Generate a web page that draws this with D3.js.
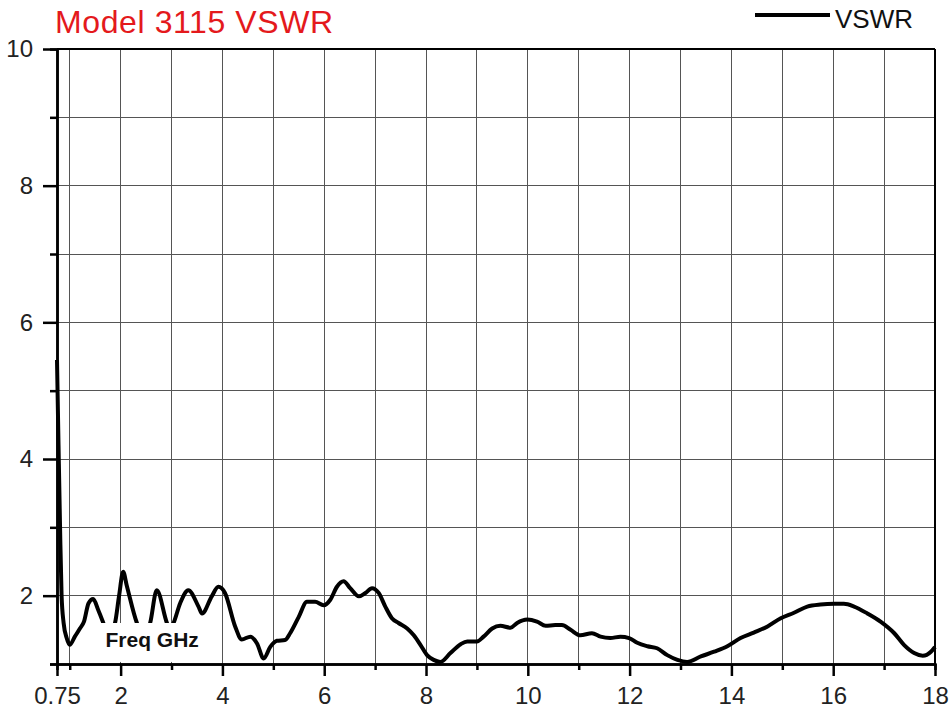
<!DOCTYPE html>
<html>
<head>
<meta charset="utf-8">
<script src="https://cdn.jsdelivr.net/npm/d3@7"></script>
<style>
  body { margin: 0; background: #fff; }
  svg { display: block; font-family: "Liberation Sans", Arial, sans-serif; }
</style>
</head>
<body>
<div id="chart"></div>
<script>
// VSWR trace (frequency in GHz)
const freq = [
  0.75, 0.78, 0.81, 0.84, 0.88, 0.94, 1.00, 1.10, 1.20, 1.28, 1.37, 1.46, 1.56, 1.66, 1.76,
  1.89, 1.97, 2.05, 2.12, 2.32, 2.45, 2.58, 2.71, 2.91, 2.97, 3.04, 3.17, 3.33, 3.53, 3.60,
  3.79, 3.92, 4.05, 4.25, 4.38, 4.55, 4.68, 4.81, 4.94, 5.07, 5.23, 5.33, 5.50, 5.66, 5.82,
  5.99, 6.12, 6.25, 6.38, 6.51, 6.68, 6.81, 6.94, 7.07, 7.20, 7.33, 7.46, 7.63, 7.76, 7.89,
  8.02, 8.15, 8.28, 8.48, 8.68, 8.81, 9.00, 9.13, 9.30, 9.46, 9.66, 9.79, 9.99, 10.18, 10.35,
  10.54, 10.67, 10.84, 11.03, 11.26, 11.43, 11.62, 11.82, 11.99, 12.15, 12.35, 12.54, 12.74, 12.94, 13.13,
  13.40, 13.66, 13.92, 14.18, 14.44, 14.71, 14.97, 15.23, 15.49, 15.75, 16.02, 16.21, 16.41, 16.67, 16.93,
  17.20, 17.39, 17.59, 17.76, 17.92, 18.00
];
const vswr = [
  5.45, 4.20, 3.00, 2.00, 1.60, 1.38, 1.28, 1.40, 1.52, 1.62, 1.89, 1.95, 1.79, 1.60, 1.40,
  1.60, 2.00, 2.35, 2.15, 1.60, 1.40, 1.60, 2.08, 1.60, 1.50, 1.60, 1.89, 2.08, 1.84, 1.74,
  1.99, 2.13, 2.04, 1.55, 1.36, 1.40, 1.30, 1.08, 1.25, 1.34, 1.35, 1.45, 1.69, 1.91, 1.91,
  1.86, 1.94, 2.13, 2.21, 2.11, 1.99, 2.04, 2.11, 2.04, 1.84, 1.67, 1.60, 1.52, 1.42, 1.28,
  1.13, 1.06, 1.03, 1.16, 1.29, 1.33, 1.33, 1.40, 1.52, 1.56, 1.53, 1.60, 1.65, 1.62, 1.56,
  1.57, 1.57, 1.50, 1.42, 1.45, 1.40, 1.38, 1.40, 1.38, 1.31, 1.26, 1.23, 1.13, 1.06, 1.03,
  1.11, 1.18, 1.26, 1.38, 1.46, 1.55, 1.67, 1.75, 1.84, 1.87, 1.88, 1.88, 1.84, 1.74, 1.62,
  1.45, 1.28, 1.16, 1.12, 1.18, 1.25
];

const xMajorTicks = [0.75, 2, 4, 6, 8, 10, 12, 14, 16, 18];
const xMinorTicks = [1, 3, 5, 7, 9, 11, 13, 15, 17];
const yMajorTicks = [2, 4, 6, 8, 10];
const yMinorTicks = [1, 3, 5, 7, 9];
const xGrid = [1, 2, 3, 4, 5, 6, 7, 8, 9, 10, 11, 12, 13, 14, 15, 16, 17];
const yGrid = [2, 3, 4, 5, 6, 7, 8, 9];

const W = 952, H = 713;
const margin = { top: 49, right: 17, bottom: 49, left: 57 },
  width = W - margin.left - margin.right,
  height = H - margin.top - margin.bottom;

const x = d3.scaleLinear().domain([0.75, 18]).range([0, width]);
const y = d3.scaleLinear().domain([1, 10]).range([height, 0]);

const svg = d3.select('#chart').append('svg')
  .attr('width', W).attr('height', H);

const g = svg.append('g')
  .attr('transform', 'translate(' + margin.left + ',' + margin.top + ')');

// grid
g.append('g').selectAll('line').data(xGrid).enter().append('line')
  .attr('x1', d => x(d)).attr('x2', d => x(d))
  .attr('y1', 0).attr('y2', height)
  .attr('stroke', '#555').attr('stroke-width', 1).attr('shape-rendering', 'crispEdges');
g.append('g').selectAll('line').data(yGrid).enter().append('line')
  .attr('y1', d => y(d)).attr('y2', d => y(d))
  .attr('x1', 0).attr('x2', width)
  .attr('stroke', '#555').attr('stroke-width', 1).attr('shape-rendering', 'crispEdges');

// trace
const line = d3.line()
  .x((d, i) => x(freq[i]))
  .y(d => y(d))
  .curve(d3.curveMonotoneX);

g.append('path')
  .datum(vswr)
  .attr('fill', 'none')
  .attr('stroke', '#000')
  .attr('stroke-width', 4)
  .attr('stroke-linejoin', 'round')
  .attr('d', line);

// axis title box sits over the trace
g.append('rect')
  .attr('x', x(1.57)).attr('y', y(1.6))
  .attr('width', x(3.55) - x(1.57)).attr('height', y(1.03) - y(1.6))
  .attr('fill', '#fff');
g.append('text')
  .attr('x', x(2.62)).attr('y', y(1.25))
  .attr('text-anchor', 'middle')
  .style('font-size', '21px').style('font-weight', 'bold').style('fill', '#111')
  .text('Freq GHz');

// frame
g.append('line').attr('x1', 0).attr('x2', width).attr('y1', 0).attr('y2', 0)
  .attr('stroke', '#000').attr('stroke-width', 2);
g.append('line').attr('x1', width).attr('x2', width).attr('y1', 0).attr('y2', height)
  .attr('stroke', '#000').attr('stroke-width', 2);

function styleAxis(sel, size) {
  sel.select('.domain').attr('stroke', '#000').attr('stroke-width', 2.5);
  sel.selectAll('.tick line').attr('stroke', '#000').attr('stroke-width', 2.5);
  sel.selectAll('.tick text').style('font-size', size).style('fill', '#222')
    .style('font-family', '"Liberation Sans", Arial, sans-serif');
}

const xMinor = g.append('g').attr('transform', 'translate(0,' + height + ')')
  .call(d3.axisBottom(x).tickValues(xMinorTicks).tickSize(6).tickFormat(''));
styleAxis(xMinor, '24px');
const xAxis = g.append('g').attr('transform', 'translate(0,' + height + ')')
  .call(d3.axisBottom(x).tickValues(xMajorTicks).tickSize(12).tickSizeOuter(0).tickPadding(11)
    .tickFormat(d => d === 0.75 ? '0.75' : d3.format('d')(d)));
styleAxis(xAxis, '24px');

const yMinor = g.append('g')
  .call(d3.axisLeft(y).tickValues(yMinorTicks).tickSize(7).tickFormat(''));
styleAxis(yMinor, '24px');
const yAxis = g.append('g')
  .call(d3.axisLeft(y).tickValues(yMajorTicks).tickSize(14).tickSizeOuter(0).tickPadding(10));
styleAxis(yAxis, '24px');

// title
svg.append('text')
  .attr('x', 55).attr('y', 33)
  .style('font-size', '32px').style('letter-spacing', '0.6px').style('fill', '#e4191c')
  .text('Model 3115 VSWR');

// legend
svg.append('line')
  .attr('x1', 755).attr('x2', 830).attr('y1', 15).attr('y2', 15)
  .attr('stroke', '#000').attr('stroke-width', 4);
svg.append('text')
  .attr('x', 835).attr('y', 28)
  .style('font-size', '26px').style('fill', '#111')
  .text('VSWR');
</script>
</body>
</html>
